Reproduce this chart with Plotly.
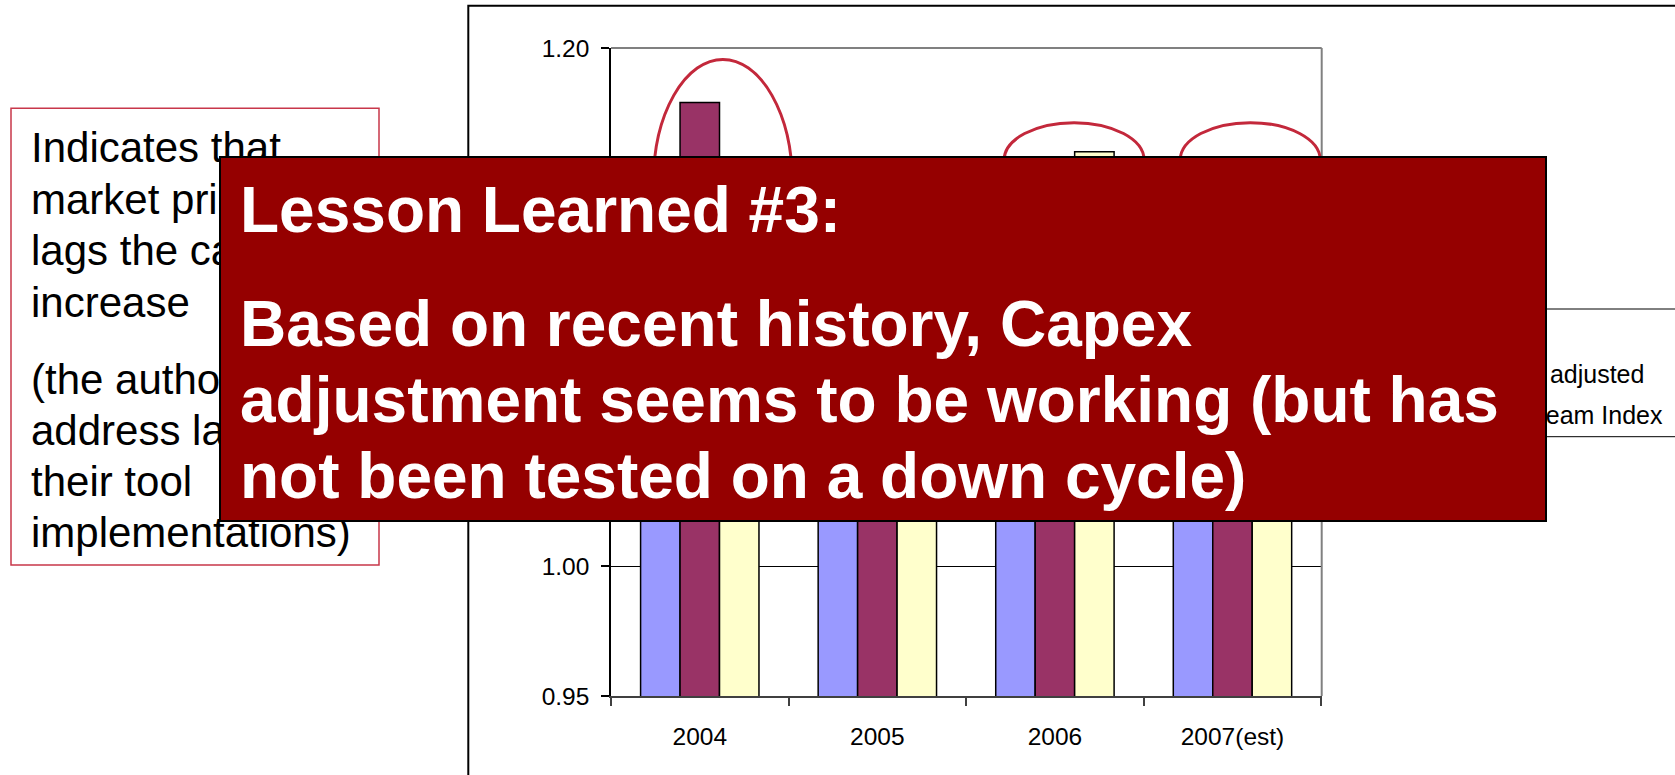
import plotly.graph_objects as go

# ---------------- data ----------------
categories = ["2004", "2005", "2006", "2007(est)"]
series_names = ["Cost", "Price adjusted", "Upstream Index"]
series_blue = [1.06, 1.08, 1.10, 1.09]
series_maroon = [1.179, 1.10, 1.13, 1.12]
series_yellow = [1.10, 1.09, 1.16, 1.14]
y_ticks = [0.95, 1.00, 1.05, 1.10, 1.15, 1.20]
y_tick_labels = ["0.95", "1.00", "1.05", "1.10", "1.15", "1.20"]

left_note_lines = ["Indicates that", "market price", "lags the capex", "increase",
                   "(the authors", "address lag in", "their tool", "implementations)"]
lesson_lines = ["Lesson Learned #3:", "Based on recent history, Capex",
                "adjustment seems to be working (but has", "not been tested on a down cycle)"]

# highlight ellipses (category-position / value space): x0, x1, y0, y1
highlights = [(-0.261, 0.521, 1.1008, 1.1956),
              (1.714, 2.502, 1.1425, 1.1712),
              (2.706, 3.494, 1.1425, 1.1712)]

# ---------------- layout helpers ----------------
W, H = 1675, 775
FONT = "Liberation Sans, Arial, sans-serif"
PL, PR, PT, PB = 611, 1321.7, 48, 696   # plot-area pixel box


def px(x):
    return x / W


def py(y):
    return 1 - y / H


colors = ["#9999FF", "#993366", "#FFFFCC"]
values = [series_blue, series_maroon, series_yellow]

fig = go.Figure()
for name, vals, col in zip(series_names, values, colors):
    fig.add_trace(go.Bar(
        x=categories, y=vals, name=name, showlegend=False,
        marker=dict(color=col, line=dict(color="black", width=1.5)),
    ))

shapes = []
# chart outer border
shapes.append(dict(type="rect", xref="paper", yref="paper",
                   x0=px(468.3), x1=1.02, y0=-0.02, y1=py(5.7),
                   line=dict(color="black", width=2), layer="below"))
# plot-area grey frame (top / right)
shapes.append(dict(type="line", xref="paper", yref="paper",
                   x0=px(PL), x1=px(PR), y0=py(PT), y1=py(PT),
                   line=dict(color="#808080", width=2), layer="above"))
shapes.append(dict(type="line", xref="paper", yref="paper",
                   x0=px(PR), x1=px(PR), y0=py(PT), y1=py(PB),
                   line=dict(color="#808080", width=2), layer="above"))
# ellipses
for (x0, x1, y0, y1) in highlights:
    shapes.append(dict(type="circle", xref="x", yref="y",
                       x0=x0, x1=x1, y0=y0, y1=y1,
                       line=dict(color="#C3283B", width=3), layer="above"))
# left note box
shapes.append(dict(type="rect", xref="paper", yref="paper",
                   x0=px(11), x1=px(379), y0=py(565), y1=py(108.3),
                   line=dict(color="#C8374A", width=1.5), fillcolor="white", layer="above"))

# legend box (runs off the right edge of the slide)
LEG_TOP, LEG_BOT, LEG_X0, LEG_TEXT_X = 309, 436.7, 1440, 1485
shapes.append(dict(type="rect", xref="paper", yref="paper",
                   x0=px(LEG_X0), x1=1.02, y0=py(LEG_BOT), y1=py(LEG_TOP),
                   line=dict(color="black", width=1), fillcolor="white", layer="above"))

annotations = []


def txt(s, x, baseline, size, color, weight="normal"):
    return dict(text=s, x=px(x), y=py(baseline - 0.35 * size), xref="paper", yref="paper",
                xanchor="left", yanchor="middle", showarrow=False, borderpad=0,
                font=dict(size=size, color=color, family=FONT, weight=weight))


legend_baselines = [341.3, 382.3, 423.3]
for name, col, b in zip(series_names, colors, legend_baselines):
    c = b - 8.7
    shapes.append(dict(type="rect", xref="paper", yref="paper",
                       x0=px(1455), x1=px(1470), y0=py(c + 7.5), y1=py(c - 7.5),
                       line=dict(color="black", width=1), fillcolor=col, layer="above"))
    annotations.append(txt(name, LEG_TEXT_X, b, 25, "black"))

left_baselines = [162.7, 214, 265.5, 317, 393.7, 445, 496.3, 547.6]
for s, b in zip(left_note_lines, left_baselines):
    annotations.append(txt(s, 30, b, 42, "black"))

# red lesson box
annotations.append(dict(text=" ", x=px(219), y=py(155.7), xref="paper", yref="paper",
                        xanchor="left", yanchor="top", showarrow=False,
                        width=1328 - 4, height=366 - 4, borderpad=0,
                        bgcolor="#950000", bordercolor="black", borderwidth=2))
lesson_baselines = [232, 346, 422.5, 498.5]
for s, b in zip(lesson_lines, lesson_baselines):
    annotations.append(txt(s, 239, b, 64, "white", weight="bold"))

fig.update_layout(
    width=W, height=H,
    margin=dict(l=0, r=0, t=0, b=0, autoexpand=False),
    paper_bgcolor="white", plot_bgcolor="white",
    barmode="group", bargap=1 / 3, bargroupgap=0,
    font=dict(family=FONT, color="black", size=24.5),
    xaxis=dict(domain=[px(PL), px(PR)], type="category",
               showline=True, linecolor="#404040", linewidth=1.5,
               ticks="outside", tickson="boundaries", ticklen=8, tickcolor="#404040",
               tickwidth=1.5, showgrid=False, ticklabelstandoff=18,
               tickfont=dict(size=24.5)),
    yaxis=dict(domain=[py(PB), py(PT)], range=[0.95, 1.20],
               tickvals=y_ticks, ticktext=y_tick_labels,
               showline=True, linecolor="black", linewidth=1.5,
               ticks="outside", ticklen=8, tickcolor="black", tickwidth=1.5,
               showgrid=True, gridcolor="black", gridwidth=1, ticklabelstandoff=7,
               zeroline=False, tickfont=dict(size=24.5)),
    showlegend=False,
    shapes=shapes,
    annotations=annotations,
)

fig.write_html("out.html", config={"displayModeBar": False},
               post_script="document.body.style.margin='0';document.body.style.overflow='hidden';")
